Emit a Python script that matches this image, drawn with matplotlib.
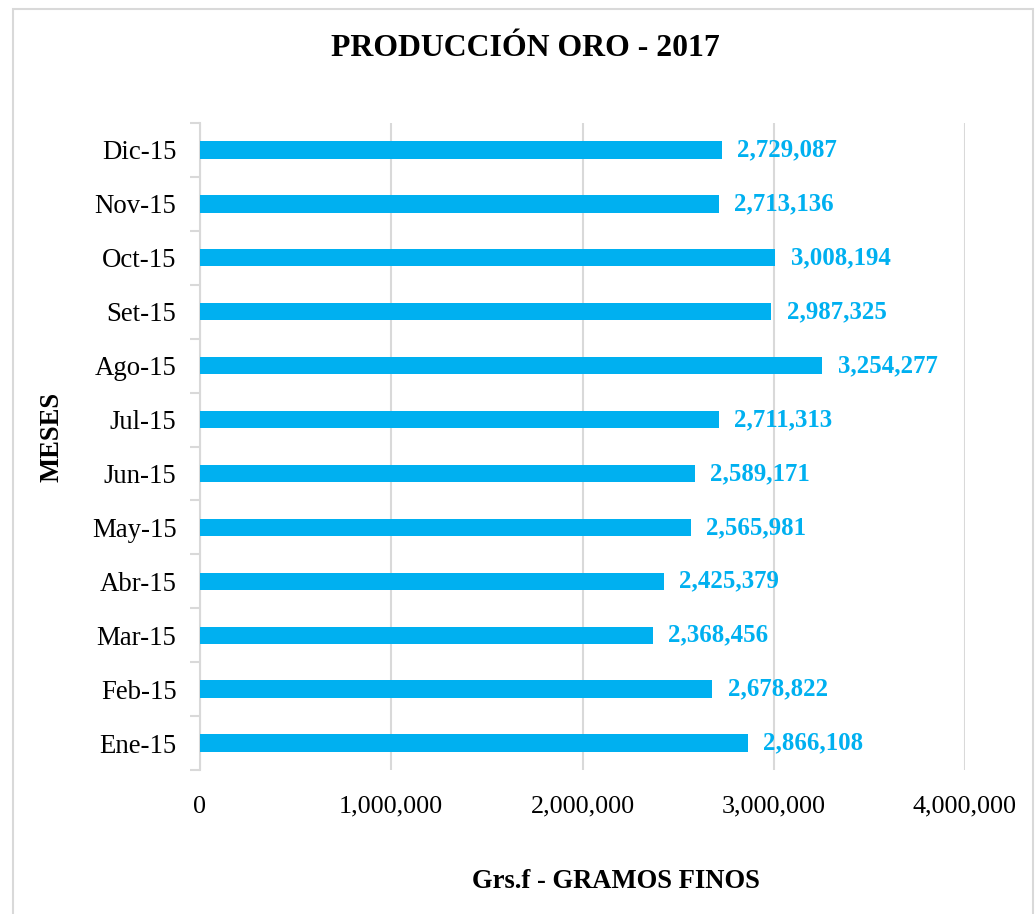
import matplotlib
matplotlib.use("Agg")
import matplotlib.pyplot as plt
from matplotlib.patches import Rectangle
from matplotlib.ticker import FuncFormatter, FixedLocator

months = ["Ene-15", "Feb-15", "Mar-15", "Abr-15", "May-15", "Jun-15",
          "Jul-15", "Ago-15", "Set-15", "Oct-15", "Nov-15", "Dic-15"]
values = [2866108, 2678822, 2368456, 2425379, 2565981, 2589171,
          2711313, 3254277, 2987325, 3008194, 2713136, 2729087]
xticks = [0, 1000000, 2000000, 3000000, 4000000]

title = "PRODUCCIÓN ORO - 2017"
xlabel = "Grs.f - GRAMOS FINOS"
ylabel = "MESES"

BAR = "#00B0F0"
GRID = "#d9d9d9"

plt.rcParams["font.family"] = ["Liberation Serif", "DejaVu Serif"]

fig = plt.figure(figsize=(10.35, 9.14), dpi=100)
ax = fig.add_axes([200/1035, 1-770/914, 765/1035, 647/914])

y = list(range(len(months)))
ax.barh(y, values, height=0.32, color=BAR, zorder=3)
ax.set_ylim(-0.5, len(months) - 0.5)
ax.set_xlim(0, 4000000)

ax.set_xticks(xticks)
ax.xaxis.set_major_formatter(FuncFormatter(lambda v, p: f"{int(v):,}"))
ax.tick_params(axis="x", length=0, labelsize=18.8, pad=18.5)
ax.grid(axis="x", color=GRID, linewidth=1.5, zorder=0)

ax.set_yticks(y)
ax.set_yticklabels(months)
ax.tick_params(axis="y", which="major", length=0, labelsize=19.3, pad=17)
ax.yaxis.set_minor_locator(FixedLocator([i - 0.5 for i in range(len(months) + 1)]))
ax.tick_params(axis="y", which="minor", length=7, color=GRID, width=1.5)

for s in ["top", "right", "bottom"]:
    ax.spines[s].set_visible(False)
ax.spines["left"].set_color(GRID)
ax.spines["left"].set_linewidth(1.5)

for yi, v in zip(y, values):
    ax.annotate(f"{v:,}", xy=(v, yi), xytext=(11, 0), textcoords="offset points",
                va="center", ha="left", color=BAR, fontsize=17.9, fontweight="bold")

fig.text(525/1035, 1-48/914, title, ha="center", va="center",
         fontsize=22.9, fontweight="bold")
fig.text(616/1035, 1-882/914, xlabel, ha="center", va="center",
         fontsize=19.2, fontweight="bold")
fig.text(52/1035, 1-437/914, ylabel, ha="center", va="center", rotation=90,
         fontsize=19.2, fontweight="bold")

fig.patches.append(Rectangle((13/1035, -0.01), (1033-13)/1035, 1-9/914 + 0.01,
                             transform=fig.transFigure, fill=False,
                             edgecolor=GRID, linewidth=1.5))

fig.savefig("out.png", dpi=100, facecolor="white")
